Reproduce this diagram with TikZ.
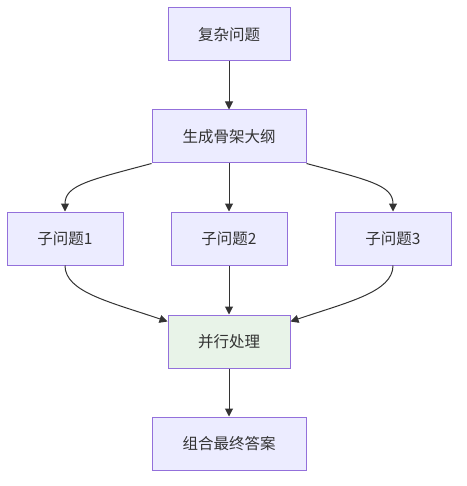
\documentclass[tikz,border=0pt]{standalone}
\usepackage{fontspec}
\newfontfamily\cjk{Noto Sans CJK SC}
\usepackage{tikz}
\usetikzlibrary{arrows.meta}
\definecolor{boxfill}{HTML}{ECECFF}
\definecolor{boxline}{HTML}{9370DB}
\definecolor{parfill}{HTML}{E8F3E8}
\definecolor{edgecol}{HTML}{333333}
\def\Box(#1) at (#2, #3) width (#4) #5; {
    \node[box, minimum width=#4] (#1) at (#2, #3) {#5};
}

\begin{document}
\begin{tikzpicture}[x=1pt, y=-1pt,
        box/.style={draw=boxline, fill=boxfill, line width=1pt, minimum height=53pt,
            inner sep=0pt, text=edgecol, font=\cjk\fontsize{15.5}{18}\selectfont},
        edge/.style={draw=edgecol, line width=1pt, -{Triangle[length=8pt,width=8pt]}}]
        \useasboundingbox (0, 0) rectangle (466, 486);
        \Box(q) at (229, 34.5) width (122pt) {复杂问题};
        \Box(sk) at (229, 136.5) width (154pt) {生成骨架大纲};
        \Box(q1) at (65, 238.5) width (116pt) {子问题1};
        \Box(q2) at (229, 238.5) width (116pt) {子问题2};
        \Box(q3) at (393, 238.5) width (116pt) {子问题3};
        \node[box, fill=parfill, minimum width=122pt] (par) at (229, 341.5) {并行处理}; % green one
        \Box(fin) at (229, 443.5) width (154pt) {组合最终答案};
        \draw[edge] (q) -- (sk);
        \draw[edge] (sk.south west) .. controls (90, 180) and (65, 185) .. (q1.north);
        \draw[edge] (sk) -- (q2);
        \draw[edge] (sk.south east) .. controls (368, 180) and (393, 185) .. (q3.north);
        \draw[edge] (q1.south) .. controls (65, 292) and (110, 302) .. ([yshift=-7pt]par.north west);
        \draw[edge] (q2) -- (par);
        \draw[edge] (q3.south) .. controls (393, 292) and (348, 302) .. ([yshift=-7pt]par.north east);
        \draw[edge] (par) -- (fin);
    \end{tikzpicture}
\end{document}
